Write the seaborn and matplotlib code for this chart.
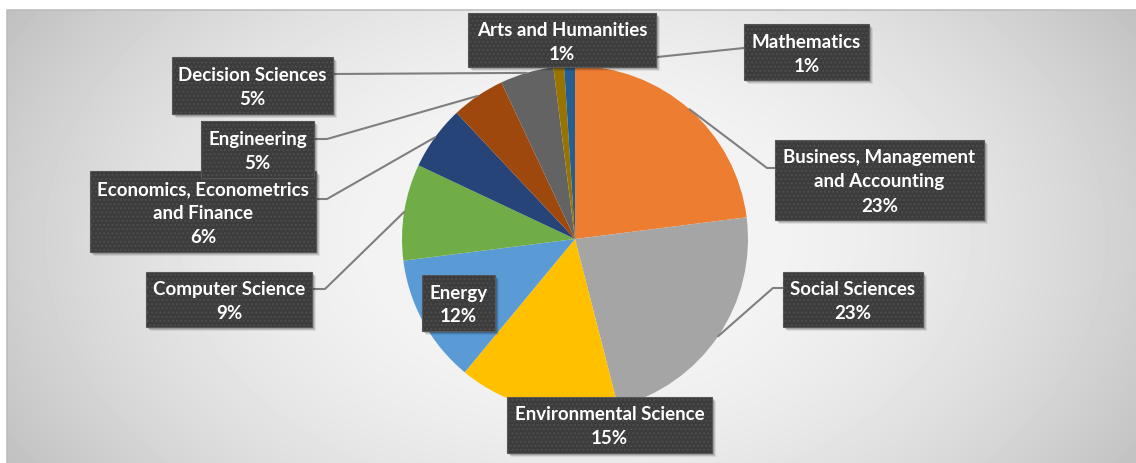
import numpy as np
import matplotlib
matplotlib.use("Agg")
import matplotlib.pyplot as plt
import seaborn as sns
from matplotlib.patches import Rectangle

# Share of publications by subject area (percent), clockwise from 12 o'clock
categories = [
    "Business, Management\nand Accounting",
    "Social Sciences",
    "Environmental Science",
    "Energy",
    "Computer Science",
    "Economics, Econometrics\nand Finance",
    "Engineering",
    "Decision Sciences",
    "Arts and Humanities",
    "Mathematics",
]
shares = [23, 23, 15, 12, 9, 6, 5, 5, 1, 1]

slice_colors = ["#ED7D31", "#A5A5A5", "#FFC000", "#5B9BD5", "#70AD47",
                "#264478", "#9E480E", "#636363", "#997300", "#255E91"]

sns.set_theme(style="white")
plt.rcParams["font.family"] = ["Lato", "DejaVu Sans"]

W, H = 1136, 463
fig = plt.figure(figsize=(W / 100, H / 100), dpi=100)
ax = fig.add_axes([0, 0, 1, 1])

# radial grey backdrop of the chart area
top, left = 10, 7
yy, xx = np.mgrid[top:H, left:W]
d2 = ((xx - 575) / 600.0) ** 2 + ((yy - 239) / 400.0) ** 2
shade = np.clip(248 - 46 * d2, 190, 250) / 255.0
ax.imshow(shade, cmap="gray", vmin=0, vmax=1, extent=(left, W, 0, H - top),
          origin="upper", aspect="auto", zorder=0, interpolation="bilinear")
ax.plot([left, left, W], [0, H - top, H - top], color="#bdbdbd", lw=1.2, zorder=0.5)

# pie in pixel-like data coordinates
cx, cy, r = 575, H - 239, 173
wedges, _ = ax.pie(shares, colors=slice_colors, startangle=90, counterclock=False,
                   center=(cx, cy), radius=r, wedgeprops=dict(linewidth=0))
for w in wedges:
    w.set_zorder(2)

# label boxes: (x0, y0, x1, y1) in pixels from top-left, plus leader path from the box
layout = [
    ((775, 140, 984, 220), [(775, 168), (767, 168)]),
    ((783, 272, 923, 327), [(783, 288), (773, 288)]),
    ((507, 397, 712, 453), None),
    ((422, 275, 495, 331), None),
    ((146, 272, 312, 327), [(312, 289), (325, 289)]),
    ((90, 171, 316, 252), [(316, 199), (327, 199)]),
    ((201, 121, 314, 178), [(314, 139), (327, 139)]),
    ((172, 57, 333, 114), [(333, 74)]),
    ((468, 13, 656, 67), None),
    ((744, 24, 869, 80), [(744, 48)]),
]

for w, name, val, (box, path) in zip(wedges, categories, shares, layout):
    x0, y0, x1, y1 = box
    bw, bh = x1 - x0, y1 - y0
    if path is not None:
        mid = np.deg2rad((w.theta1 + w.theta2) / 2)
        ex, ey = cx + r * np.cos(mid), cy + r * np.sin(mid)
        px = [p[0] for p in path] + [ex]
        py = [H - p[1] for p in path] + [ey]
        ax.plot(px, py, color="#7f7f7f", lw=1.5, zorder=3, solid_capstyle="round")
    # soft drop shadow
    for k, a in ((4, 0.08), (3, 0.12), (2, 0.15)):
        ax.add_patch(Rectangle((x0 + k, H - y1 - k), bw, bh, facecolor="black",
                               edgecolor="none", alpha=a, zorder=4))
    ax.add_patch(Rectangle((x0, H - y1), bw, bh, facecolor="#3c3c3c",
                           edgecolor="#5a5a5a", lw=0.8, zorder=5))
    ax.add_patch(Rectangle((x0, H - y1), bw, bh, fill=False, hatch="....",
                           edgecolor="#4d4d4d", lw=0, zorder=5.5))
    ax.text((x0 + x1) / 2, H - (y0 + y1) / 2 - 2, f"{name}\n{val}%", ha="center",
            va="center", color="white", fontsize=13.5, fontweight="bold",
            linespacing=1.5, zorder=6)

ax.set_xlim(0, W)
ax.set_ylim(0, H)
ax.set_aspect("auto")
ax.axis("off")
fig.savefig("out.png", dpi=100, facecolor="white")
